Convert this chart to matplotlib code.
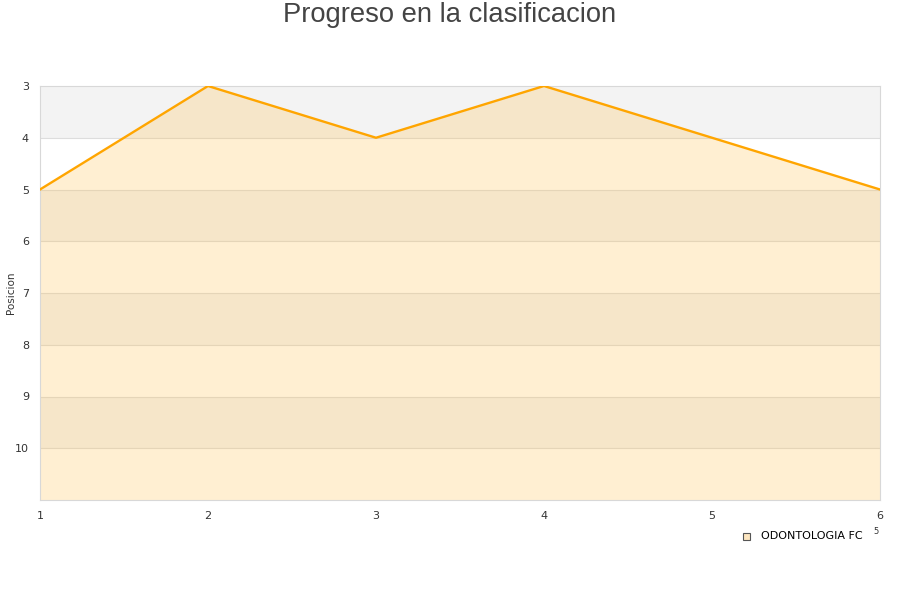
import matplotlib.pyplot as plt

# jornadas y posicion
jornadas = [1, 2, 3, 4, 5, 6]
posicion = [5, 3, 4, 3, 4, 5]
equipo = "ODONTOLOGIA FC"
titulo = "Progreso en la clasificacion"

fig = plt.figure(figsize=(9, 6), dpi=100)
ax = fig.add_axes([40 / 900, 1 - 500 / 600, 840 / 900, 414 / 600])

# bandas alternas de fondo
for y0 in range(3, 11, 2):
    ax.axhspan(y0, y0 + 1, color="#f3f3f3", zorder=0, lw=0)
for y in range(4, 11):
    ax.axhline(y, color="#dddddd", lw=0.8, zorder=1)

ax.fill_between(jornadas, posicion, 11, color="#ffc04d", alpha=0.25, lw=0, zorder=2)
ax.plot(jornadas, posicion, color="#ffa500", lw=1.7, zorder=3)

ax.set_xlim(1, 6)
ax.set_ylim(11, 3)
ax.set_xticks(jornadas)
ax.set_yticks(range(3, 11))
ax.tick_params(length=0, labelsize=8, colors="#333333", pad=8)
for s in ax.spines.values():
    s.set_color("#d8d8d8")
fig.text(11 / 900, 1 - 293 / 600, "Posicion", fontsize=7.5, color="#333333",
         rotation=90, ha="center", va="center")

fig.text(0.5, 1 - 15 / 600, titulo, ha="center", va="center", fontsize=19.7,
         color="#444444", family="Liberation Sans")

# leyenda
fig.patches.append(plt.Rectangle((743 / 900, 1 - 540 / 600), 7 / 900, 7 / 600,
                                 transform=fig.transFigure, facecolor="#fde6c0",
                                 edgecolor="#555555", lw=0.8))
fig.text(761 / 900, 1 - 536 / 600, equipo, fontsize=8, va="center", color="#000000")
fig.text(873 / 900, 1 - 531 / 600, "5", fontsize=6, va="center", color="#333333")

fig.savefig("out.png", dpi=100)
